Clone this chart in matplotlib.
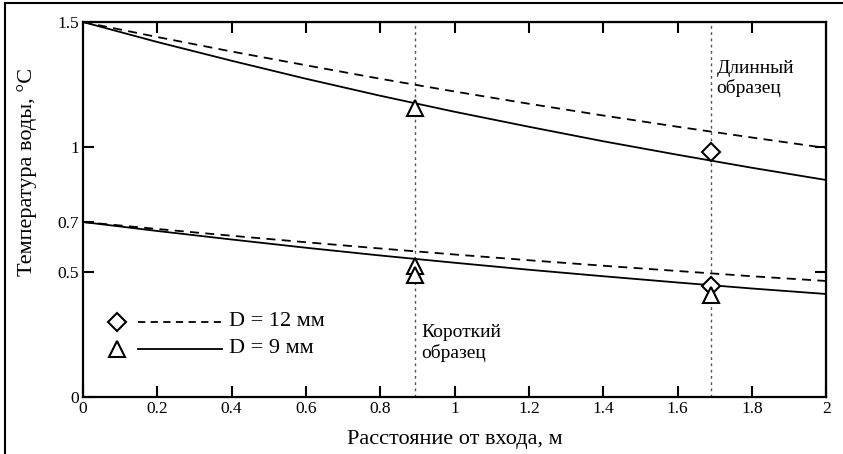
import matplotlib
matplotlib.use("Agg")
import matplotlib.pyplot as plt
from matplotlib.lines import Line2D

plt.rcParams['font.family'] = ['Liberation Serif', 'DejaVu Serif']

# Distance along the channel, m
x_curve = [0.0, 0.2, 0.4, 0.6, 0.8, 1.0, 1.2, 1.4, 1.6, 1.8, 2.0]

# Calculated water temperature, °C
upper_d12 = [1.500, 1.440, 1.382, 1.327, 1.273, 1.222, 1.173, 1.126, 1.081, 1.038, 0.996]
upper_d9 = [1.500, 1.420, 1.345, 1.273, 1.205, 1.141, 1.081, 1.023, 0.969, 0.917, 0.868]
lower_d12 = [0.700, 0.672, 0.645, 0.619, 0.594, 0.570, 0.547, 0.525, 0.504, 0.483, 0.464]
lower_d9 = [0.700, 0.664, 0.630, 0.597, 0.566, 0.537, 0.509, 0.483, 0.458, 0.434, 0.412]

# Measured points
x_short, x_long = 0.894, 1.69
meas_d12_x = [1.69, 1.69]
meas_d12_y = [0.98, 0.442]
meas_d9_x = [0.894, 0.894, 0.894, 1.69]
meas_d9_y = [1.156, 0.522, 0.486, 0.408]

x_ticks = [0, 0.2, 0.4, 0.6, 0.8, 1, 1.2, 1.4, 1.6, 1.8, 2]
x_ticklabels = ['0', '0.2', '0.4', '0.6', '0.8', '1', '1.2', '1.4', '1.6', '1.8', '2']
y_ticks = [0, 0.5, 0.7, 1, 1.5]
y_ticklabels = ['0', '0.5', '0.7', '1', '1.5']

fig = plt.figure(figsize=(8.43, 4.54), dpi=100)
ax = fig.add_axes([0.0985, 0.1256, 0.8815, 0.8259])

dash = (0, (5, 3.5))
ax.plot(x_curve, upper_d12, color='black', lw=1.3, linestyle=dash)
ax.plot(x_curve, lower_d12, color='black', lw=1.3, linestyle=dash)
ax.plot(x_curve, upper_d9, color='black', lw=1.3)
ax.plot(x_curve, lower_d9, color='black', lw=1.3)

for xv in (x_short, x_long):
    ax.axvline(xv, color='#555555', lw=1.0, linestyle=(0, (2, 2.5)), zorder=1)

ax.plot(meas_d12_x, meas_d12_y, linestyle='none', marker='D', ms=9,
        mfc='white', mec='black', mew=1.5, zorder=5)
ax.plot(meas_d9_x, meas_d9_y, linestyle='none', marker='^', ms=11,
        mfc='white', mec='black', mew=1.5, zorder=5)

ax.set_xlim(0, 2)
ax.set_ylim(0, 1.5)
ax.set_xticks(x_ticks)
ax.set_xticklabels(x_ticklabels)
ax.set_yticks(y_ticks)
ax.set_yticklabels(y_ticklabels)
ax.tick_params(direction='in', length=8, width=1.5, labelsize=12.5, pad=3)
for s in ax.spines.values():
    s.set_linewidth(1.6)

top = ax.secondary_xaxis('top')
top.set_xticks(x_ticks[1:-1])
top.set_xticklabels([])
top.tick_params(direction='in', length=8, width=1.5)
right = ax.secondary_yaxis('right')
right.set_yticks([0.5, 1])
right.set_yticklabels([])
right.tick_params(direction='in', length=8, width=1.5)

ax.set_xlabel('Расстояние от входа, м', fontsize=16)
ax.xaxis.set_label_coords(0.5, -0.088)
ax.set_ylabel('Температура воды, °С', fontsize=16)
ax.yaxis.set_label_coords(-0.062, 0.6)

ax.text(0.91, 0.29, 'Короткий\nобразец', fontsize=14, va='top', ha='left',
        linespacing=1.15)
ax.text(1.705, 1.35, 'Длинный\nобразец', fontsize=14, va='top', ha='left',
        linespacing=1.15)

# Legend: marker, line sample and caption
leg_rows = [('D', dash, 'D = 12 мм', 0.200, 9),
            ('^', '-', 'D = 9 мм', 0.128, 11)]
for mk, ls, label, yy, ms in leg_rows:
    ax.plot([0.0458], [yy], transform=ax.transAxes, marker=mk, ms=ms,
            mfc='white', mec='black', mew=1.5, linestyle='none', clip_on=False)
    ax.plot([0.074, 0.187], [yy, yy], transform=ax.transAxes, color='black',
            lw=1.3, linestyle=(0, (4, 3)) if ls != '-' else '-')
    ax.text(0.196, yy, label, transform=ax.transAxes, fontsize=16,
            va='center', ha='left')

# Frame around the figure
fig.add_artist(Line2D([0.006, 0.006], [0, 0.994], transform=fig.transFigure,
                      color='black', lw=1.5))
fig.add_artist(Line2D([0.006, 1.0], [0.994, 0.994], transform=fig.transFigure,
                      color='black', lw=1.5))

fig.savefig('out.png', dpi=100)
